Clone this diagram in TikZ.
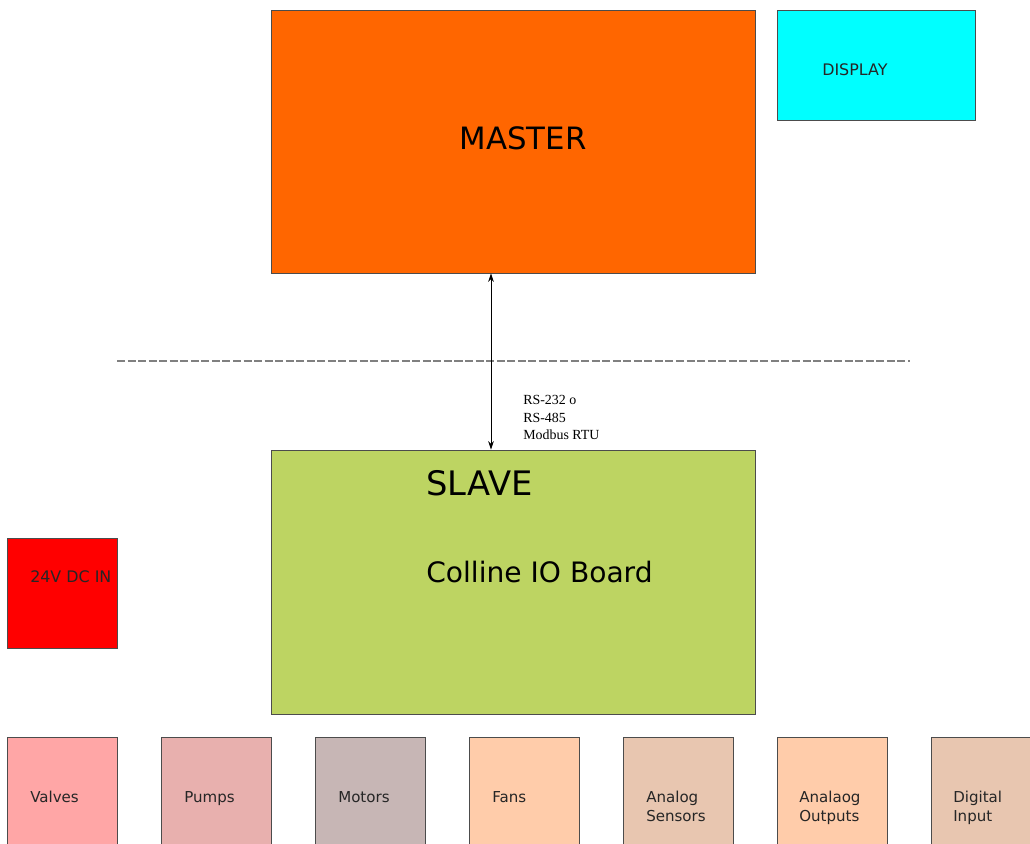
\documentclass[tikz,border=0pt]{standalone}
\usepackage{fontspec}
\setmainfont{DejaVu Sans}
\newfontfamily\rsfont{Liberation Serif}
\usepackage{xcolor}
\usepackage{tikz}
\usetikzlibrary{arrows.meta}

\definecolor{masterorange}{HTML}{FF6600}
\definecolor{displaycyan}{HTML}{00FFFF}
\definecolor{slavegreen}{HTML}{BDD462}
\definecolor{powerred}{HTML}{FF0000}
\definecolor{valvepink}{HTML}{FFA6A6}
\definecolor{pumprose}{HTML}{E8B0AE}
\definecolor{motorgrey}{HTML}{C7B6B5}
\definecolor{fanpeach}{HTML}{FFCCAA}
\definecolor{sensortan}{HTML}{E8C6B0}

\begin{document}
\begin{tikzpicture}[x=0.025cm, y=-0.025cm,
        block/.style = {draw=black!70,
            line width=0.6pt,
            rectangle,
            inner sep=0pt},
        io/.style = {block,
            minimum width=2.75cm,
            minimum height=2.75cm},
        lbl/.style = {anchor=west,
            inner sep=0pt,
            align=left,
            text=black!85,
            font=\fontsize{10.7}{13.5}\selectfont}]

    \useasboundingbox (0,0) rectangle (1030,843);
    \clip (0,0) rectangle (1030,843);

    % Master and display
    \node[block,
        fill=masterorange,
        minimum width=12.1cm,
        minimum height=6.575cm] (master) at (513,141.5){};
    \node[anchor=center, inner sep=0pt,
        font=\fontsize{21.9}{26}\selectfont] (masterT) at (523,138){MASTER};

    \node[block,
        fill=displaycyan,
        minimum width=4.95cm,
        minimum height=2.75cm] (display) at (876,65){};
    \node[lbl, font=\fontsize{11.3}{13.5}\selectfont] (displayT) at (822,70){DISPLAY};

    % Separation line
    \coordinate (sepL) at (117,361);
    \coordinate (sepR) at (910,361);
    \draw[black!50, line width=0.9pt, dash pattern=on 5.7pt off 1.8pt] (sepL) -- (sepR);

    % Slave board
    \node[block,
        fill=slavegreen,
        minimum width=12.1cm,
        minimum height=6.6cm] (slave) at (513,582){};
    \node[lbl, text=black, font=\fontsize{24}{28}\selectfont] (slaveT) at (426,483){SLAVE};
    \node[lbl, text=black, font=\fontsize{20}{24}\selectfont] (boardT) at (426,572){Colline IO Board};

    % Bus between master and slave
    \coordinate (bus) at (491,0);
    \draw[{Stealth[length=6pt,width=4pt]}-{Stealth[length=6pt,width=4pt]},
        line width=0.6pt] (master.south -| bus) -- (slave.north -| bus);
    \node[lbl, text=black, font=\rsfont\fontsize{9.9}{12.4}\selectfont] (busT) at (523,417.5)
        {RS-232 o\\RS-485\\Modbus RTU};

    % Power input
    \node[io, fill=powerred] (power) at (62,593){};
    \node[lbl, font=\fontsize{11.3}{13.5}\selectfont] (powerT) at (30,577){24V DC IN};

    % IO modules
    \node[io, fill=valvepink] (valves) at (62,792){};
    \node[io, fill=pumprose] (pumps) at (216,792){};
    \node[io, fill=motorgrey] (motors) at (370,792){};
    \node[io, fill=fanpeach] (fans) at (524,792){};
    \node[io, fill=sensortan] (sensors) at (678,792){};
    \node[io, fill=fanpeach] (outputs) at (832,792){};
    \node[io, fill=sensortan] (inputs) at (986,792){};

    \node[lbl] (valvesT) at (30,797){Valves};
    \node[lbl] (pumpsT) at (184,799){Pumps};
    \node[lbl] (motorsT) at (338,797){Motors};
    \node[lbl] (fansT) at (492,797){Fans};
    \node[lbl] (sensorsT) at (646,806.5){Analog\\Sensors};
    \node[lbl] (outputsT) at (799,808){Analaog\\Outputs};
    \node[lbl] (inputsT) at (953,808){Digital\\Input};

\end{tikzpicture}
\end{document}
